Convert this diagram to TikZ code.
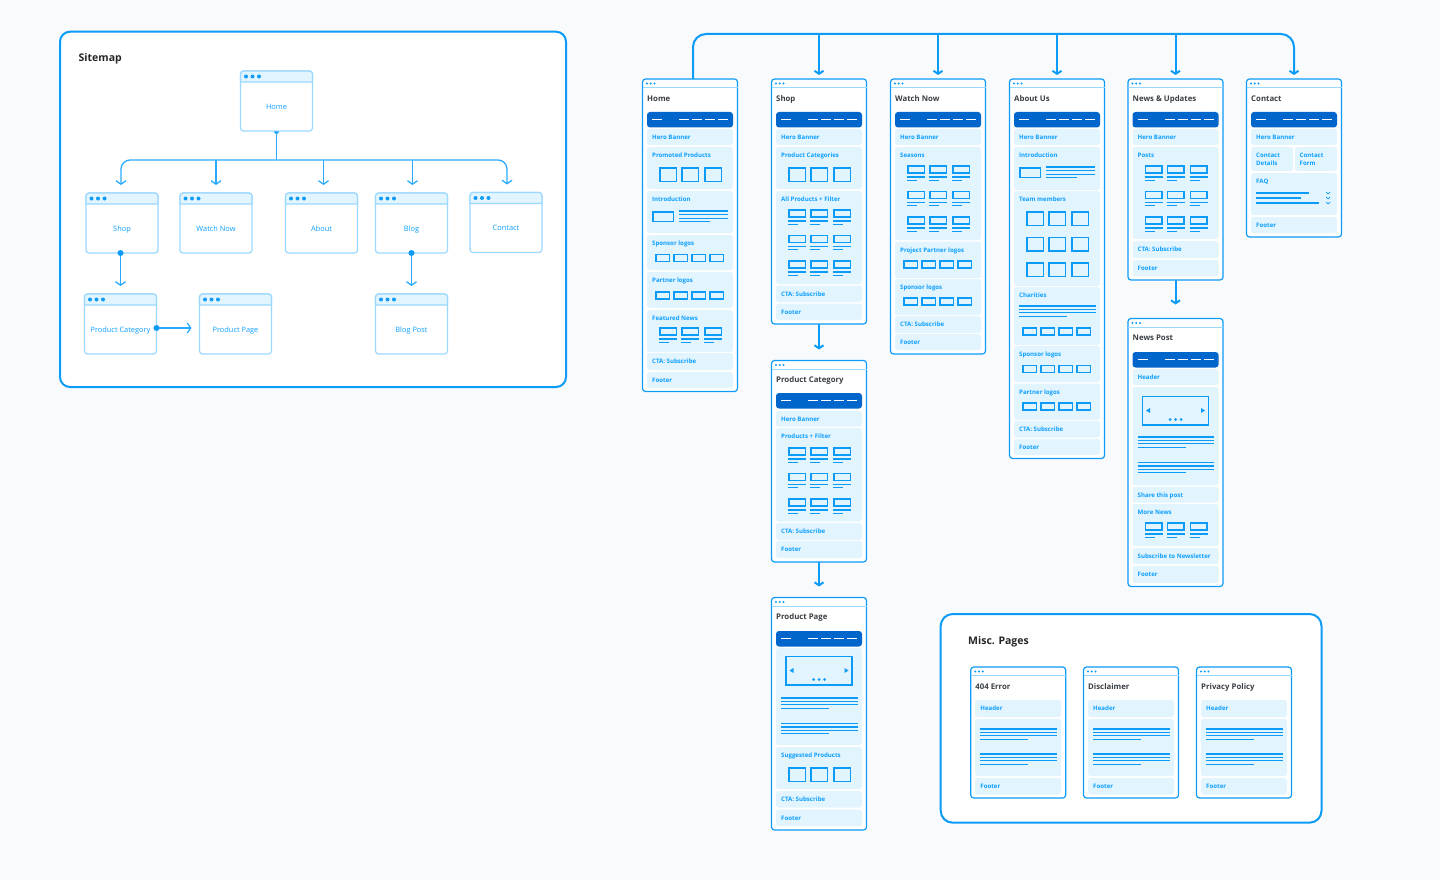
\documentclass[tikz,border=0pt]{standalone}
\usepackage{fontspec}
\setmainfont{Open Sans}
\usepackage{xcolor}
\usetikzlibrary{arrows.meta}

\definecolor{bgpale}{HTML}{F8FAFC}
\definecolor{flowblue}{HTML}{0C9BF7}
\definecolor{lightblue}{HTML}{9BD8FF}
\definecolor{panelblue}{HTML}{E2F4FE}
\definecolor{darkblue}{HTML}{0066CC}
\definecolor{labelblue}{HTML}{0E9FFF}
\definecolor{titlegrey}{HTML}{3A3F44}

\tikzset{
	framebox/.style={draw=flowblue,line width=2pt,fill=white,rounded corners=10pt,inner sep=0pt,outer sep=0pt,anchor=north west},
	bigtitle/.style={anchor=base west,inner sep=0pt,font=\fontsize{10.5}{12}\selectfont\bfseries,text=black!85},
	sitebox/.style={draw=lightblue,line width=1.2pt,fill=white,rounded corners=3pt,minimum width=72pt,minimum height=60pt,inner sep=0pt,outer sep=0pt},
	sitetext/.style={anchor=base,inner sep=0pt,font=\fontsize{7.4}{8}\selectfont,text=labelblue},
	siteflow/.style={color=labelblue!80!lightblue,line width=1.3pt,>={Straight Barb[length=3.5pt,width=10pt]}},
	pagebox/.style={draw=flowblue,line width=1.2pt,fill=white,rounded corners=3pt,minimum width=95pt,inner sep=0pt,outer sep=0pt,anchor=north west},
	pagetitle/.style={anchor=base west,inner sep=0pt,font=\fontsize{7.8}{9}\selectfont\bfseries,text=titlegrey},
	seclabel/.style={anchor=base west,inner sep=0pt,font=\fontsize{6.1}{7.6}\selectfont\bfseries,text=labelblue,align=left},
	panelfill/.style={fill=panelblue,rounded corners=2.5pt},
	wire/.style={draw=flowblue,line width=1.5pt},
	rule/.style={draw=flowblue,line width=1.2pt},
	pageflow/.style={color=flowblue,line width=2pt,>={Straight Barb[length=3pt,width=9pt]}}
}

% sitemap box: name, left, top, label
\newcommand{\sitepage}[4]{
	\node[sitebox,anchor=north west] (#1) at (#2,#3) {};
	\filldraw[draw=lightblue,line width=1.2pt,fill=panelblue] (#2,#3+11) {[rounded corners=3pt] -- (#2,#3) -- (#2+72,#3)} -- (#2+72,#3+11) -- cycle;
	\foreach \i in {5.5,12,18.5} \fill[flowblue] (#2+\i,#3+5.5) circle (2pt);
	\node[sitetext] (#1text) at (#2+36,#3+38.3) {#4};
}

% wireframe page: name, left, top, bottom, title
\newcommand{\wirepage}[5]{
	\def\px{#2}
	\def\pn{#1}
	\node[pagebox,minimum height={(#4-#3)*1pt}] (#1) at (#2,#3) {};
	\draw[draw=lightblue,line width=1pt] (#2,#3+8.5) -- (#2+95,#3+8.5);
	\foreach \i in {4.5,8.2,12} \fill[flowblue] (#2+\i,#3+4.5) circle (1.1pt);
	\node[pagetitle] (#1title) at (#2+4.5,#3+22.3) {#5};
}
\newcommand{\herobar}[1]{
	\fill[darkblue,rounded corners=3pt] (\px+4.5,#1) rectangle (\px+90.5,#1+15.5);
	\draw[white!90!panelblue,line width=1pt] (\px+9.5,#1+7.5) -- +(10,0);
	\foreach \i in {36.5,49.5,62.5,75.5} \draw[white!90!panelblue,line width=1pt] (\px+\i,#1+7.5) -- +(10,0);
}
\newcommand{\secpanel}[3]{
	\fill[panelfill] (\px+4.5,#1) rectangle (\px+90.5,#2);
	\node[seclabel] (\pn-#1) at (\px+9.5,#1+10.5) {#3};
}
\newcommand{\tripsq}[1]{
	\foreach \i in {17.25,39.25,62.25} \draw[wire] (\px+\i,#1+.75) rectangle +(16.5,13.5);
}
\newcommand{\logorow}[1]{
	\foreach \i in {13.25,31.25,49.25,67.25} \draw[wire] (\px+\i,#1+.75) rectangle +(13.5,7);
}
\newcommand{\cardrow}[1]{
	\foreach \i in {16.5,38.5,61.5} {
		\draw[wire] (\px+\i+.75,#1+.75) rectangle +(16.5,7);
		\draw[rule] (\px+\i,#1+12) -- +(18,0);
		\draw[rule] (\px+\i,#1+15.3) -- +(10,0);
	}
}
\newcommand{\paralines}[1]{
	\draw[rule] (\px+9.5,#1) -- +(76.5,0);
	\draw[rule] (\px+9.5,#1+3.4) -- +(76.5,0);
	\draw[rule] (\px+9.5,#1+6.8) -- +(76.5,0);
	\draw[rule] (\px+9.5,#1+10.3) -- +(48,0);
}
\newcommand{\introrow}[1]{
	\draw[wire] (\px+10.25,#1+.75) rectangle +(20.5,9.5);
	\draw[rule] (\px+36.5,#1) -- +(49,0);
	\draw[rule] (\px+36.5,#1+3.6) -- +(49,0);
	\draw[rule] (\px+36.5,#1+7.2) -- +(49,0);
	\draw[rule] (\px+36.5,#1+10.8) -- +(31,0);
}
\newcommand{\sliderbox}[1]{
	\draw[wire] (\px+14.5,#1+.5) rectangle +(66,28.5);
	\fill[flowblue] (\px+18,#1+14.5) -- +(4,-2.5) -- +(4,2.5) -- cycle;
	\fill[flowblue] (\px+77,#1+14.5) -- +(-4,-2.5) -- +(-4,2.5) -- cycle;
	\foreach \i in {42,47.5,53} \fill[flowblue] (\px+\i,#1+23.5) circle (1.5pt);
}

\begin{document}
\begin{tikzpicture}[x=1pt,y=-1pt]
	\fill[bgpale] (0,0) rectangle (1440,880);
	\useasboundingbox (0,0) rectangle (1440,880);

	% sitemap
	\node[framebox,minimum width=506pt,minimum height=355.3pt] (sitemap) at (60,31.7) {};
	\node[bigtitle] (sitemaptitle) at (78.5,62) {Sitemap};
	\fill[flowblue] (276.5,131.5) circle (2.5pt);
	\sitepage{homebox}{240.5}{71}{Home}
	\sitepage{shopbox}{86}{193}{Shop}
	\sitepage{watchbox}{180}{193}{Watch Now}
	\sitepage{aboutbox}{285.5}{193}{About}
	\sitepage{blogbox}{375.5}{193}{Blog}
	\sitepage{contactbox}{470}{192.5}{Contact}
	\sitepage{catbox}{84.5}{294}{Product Category}
	\sitepage{prodbox}{199.5}{294}{Product Page}
	\sitepage{postbox}{375.5}{294}{Blog Post}

	\coordinate (sitebus) at (276.5,160);
	\draw[siteflow] (homebox.south) -- (sitebus);
	\draw[siteflow,->,rounded corners=9pt,shorten >=8pt] (sitebus) -| ([xshift=-1pt]shopbox.north);
	\draw[siteflow,->,rounded corners=9pt,shorten >=8pt] (sitebus) -| ([xshift=1pt]contactbox.north);
	\path[siteflow,->,shorten >=8pt]
		(sitebus -| watchbox) edge (watchbox.north)
		([xshift=2pt]sitebus -| aboutbox) edge ([xshift=2pt]aboutbox.north)
		([xshift=1pt]sitebus -| blogbox) edge ([xshift=1pt]blogbox.north)
		(catbox.north |- shopbox.south) edge (catbox.north)
		(blogbox.south) edge (postbox.north)
		([yshift=-4pt]catbox.east) edge ([yshift=-4pt]prodbox.west);
	\fill[flowblue] (catbox.north |- shopbox.south) circle (3pt);
	\fill[flowblue] (blogbox.south) circle (3pt);
	\fill[flowblue] ([yshift=-4pt]catbox.east) circle (3pt);

	% misc frame
	\node[framebox,minimum width=380.8pt,minimum height=208.7pt,rounded corners=12pt] (miscframe) at (940.7,614) {};
	\node[bigtitle] (misctitle) at (968,644) {Misc. Pages};

	% home
	\wirepage{homepage}{642.5}{79}{391.5}{Home}
	\herobar{112}
	\secpanel{129}{145}{Hero Banner}
	\secpanel{147}{189}{Promoted Products}
	\tripsq{167}
	\secpanel{191}{233}{Introduction}
	\introrow{211}
	\secpanel{235}{270}{Sponsor logos}
	\logorow{253.5}
	\secpanel{272}{308}{Partner logos}
	\logorow{291}
	\secpanel{310}{352}{Featured News}
	\cardrow{327}
	\secpanel{353}{370}{CTA: Subscribe}
	\secpanel{372}{388}{Footer}

	% shop
	\wirepage{shoppage}{771.5}{79}{324}{Shop}
	\herobar{112}
	\secpanel{129}{145}{Hero Banner}
	\secpanel{147}{189}{Product Categories}
	\tripsq{167}
	\secpanel{191}{284}{All Products + Filter}
	\cardrow{209}
	\cardrow{234.5}
	\cardrow{260}
	\secpanel{285.5}{302}{CTA: Subscribe}
	\secpanel{303.5}{320}{Footer}

	% watch now
	\wirepage{watchpage}{890.5}{79}{354}{Watch Now}
	\herobar{112}
	\secpanel{129}{145}{Hero Banner}
	\secpanel{147}{240}{Seasons}
	\cardrow{165}
	\cardrow{190.5}
	\cardrow{216}
	\secpanel{241.5}{278}{Project Partner logos}
	\logorow{260}
	\secpanel{279}{315}{Sponsor logos}
	\logorow{297}
	\secpanel{316}{333}{CTA: Subscribe}
	\secpanel{334}{350}{Footer}

	% about us
	\wirepage{aboutpage}{1009.5}{79}{458.5}{About Us}
	\herobar{112}
	\secpanel{129}{145}{Hero Banner}
	\secpanel{147}{190}{Introduction}
	\introrow{167}
	\secpanel{191}{286}{Team members}
	\tripsq{211}
	\tripsq{236.5}
	\tripsq{262}
	\secpanel{287}{345}{Charities}
	\paralines{306}
	\logorow{327}
	\secpanel{346}{382}{Sponsor logos}
	\logorow{364.5}
	\secpanel{383.5}{420}{Partner logos}
	\logorow{402}
	\secpanel{421}{437.5}{CTA: Subscribe}
	\secpanel{439}{455}{Footer}

	% news and updates
	\wirepage{newspage}{1128}{79}{280}{News \& Updates}
	\herobar{112}
	\secpanel{129}{145}{Hero Banner}
	\secpanel{147}{239}{Posts}
	\cardrow{165}
	\cardrow{190.5}
	\cardrow{216}
	\secpanel{241}{258}{CTA: Subscribe}
	\secpanel{260}{276}{Footer}

	% contact
	\wirepage{contactpage}{1246.5}{79}{237}{Contact}
	\herobar{112}
	\secpanel{129}{145}{Hero Banner}
	\fill[panelfill] (1251,147) rectangle (1293,171);
	\fill[panelfill] (1295,147) rectangle (1337,171);
	\node[seclabel] (contactdetails) at (1256,165.5) {Contact\\Details};
	\node[seclabel] (contactform) at (1299.5,165.5) {Contact\\Form};
	\secpanel{173}{215}{FAQ}
	\draw[rule] (1256,193) -- (1309,193);
	\draw[rule] (1256,198) -- (1301,198);
	\draw[rule] (1256,203) -- (1319,203);
	\foreach \i in {192,197,202}
		\draw[draw=flowblue,line width=.7pt] (1326,\i) -- (1328,\i+2) -- (1330,\i);
	\secpanel{217}{233}{Footer}

	% product category
	\wirepage{catpage}{771.5}{360.5}{562}{Product Category}
	\herobar{393}
	\secpanel{411}{426.5}{Hero Banner}
	\secpanel{428}{521.5}{Products + Filter}
	\cardrow{447}
	\cardrow{472.5}
	\cardrow{498}
	\secpanel{523}{540}{CTA: Subscribe}
	\secpanel{541}{558}{Footer}

	% product page
	\wirepage{productpage}{771.5}{597.5}{830}{Product Page}
	\herobar{631}
	\secpanel{648}{745}{}
	\sliderbox{656}
	\paralines{698}
	\paralines{723.5}
	\secpanel{747}{789}{Suggested Products}
	\tripsq{767}
	\secpanel{791}{807.5}{CTA: Subscribe}
	\secpanel{809.5}{826}{Footer}

	% news post
	\wirepage{postpage}{1128}{318.5}{586.5}{News Post}
	\herobar{352}
	\secpanel{369}{385}{Header}
	\secpanel{387}{485}{}
	\sliderbox{396}
	\paralines{437}
	\paralines{462.5}
	\secpanel{486.5}{502.5}{Share this post}
	\secpanel{504}{546}{More News}
	\cardrow{522}
	\secpanel{548}{564}{Subscribe to Newsletter}
	\secpanel{566}{583}{Footer}

	% misc pages
	\wirepage{errorpage}{970.7}{667}{798}{404 Error}
	\secpanel{700}{717}{Header}
	\secpanel{719}{776}{}
	\paralines{729}
	\paralines{754}
	\secpanel{778}{794.5}{Footer}

	\wirepage{disclaimerpage}{1083.5}{667}{798}{Disclaimer}
	\secpanel{700}{717}{Header}
	\secpanel{719}{776}{}
	\paralines{729}
	\paralines{754}
	\secpanel{778}{794.5}{Footer}

	\wirepage{privacypage}{1196.5}{667}{798}{Privacy Policy}
	\secpanel{700}{717}{Header}
	\secpanel{719}{776}{}
	\paralines{729}
	\paralines{754}
	\secpanel{778}{794.5}{Footer}

	% page flow
	\coordinate (pagebus) at (1000,34);
	\draw[pageflow,->,rounded corners=13pt,shorten >=4pt] ([xshift=3pt]homepage.north) |- (pagebus) -| (contactpage.north);
	\path[pageflow,->,shorten >=4pt]
		(pagebus -| shoppage) edge (shoppage.north)
		(pagebus -| watchpage) edge (watchpage.north)
		(pagebus -| aboutpage) edge (aboutpage.north)
		(pagebus -| newspage) edge (newspage.north);
	\path[pageflow,->,shorten >=11pt]
		(shoppage) edge (catpage)
		(catpage) edge (productpage);
	\path[pageflow,->,shorten >=14pt]
		(newspage) edge (postpage);
\end{tikzpicture}
\end{document}
